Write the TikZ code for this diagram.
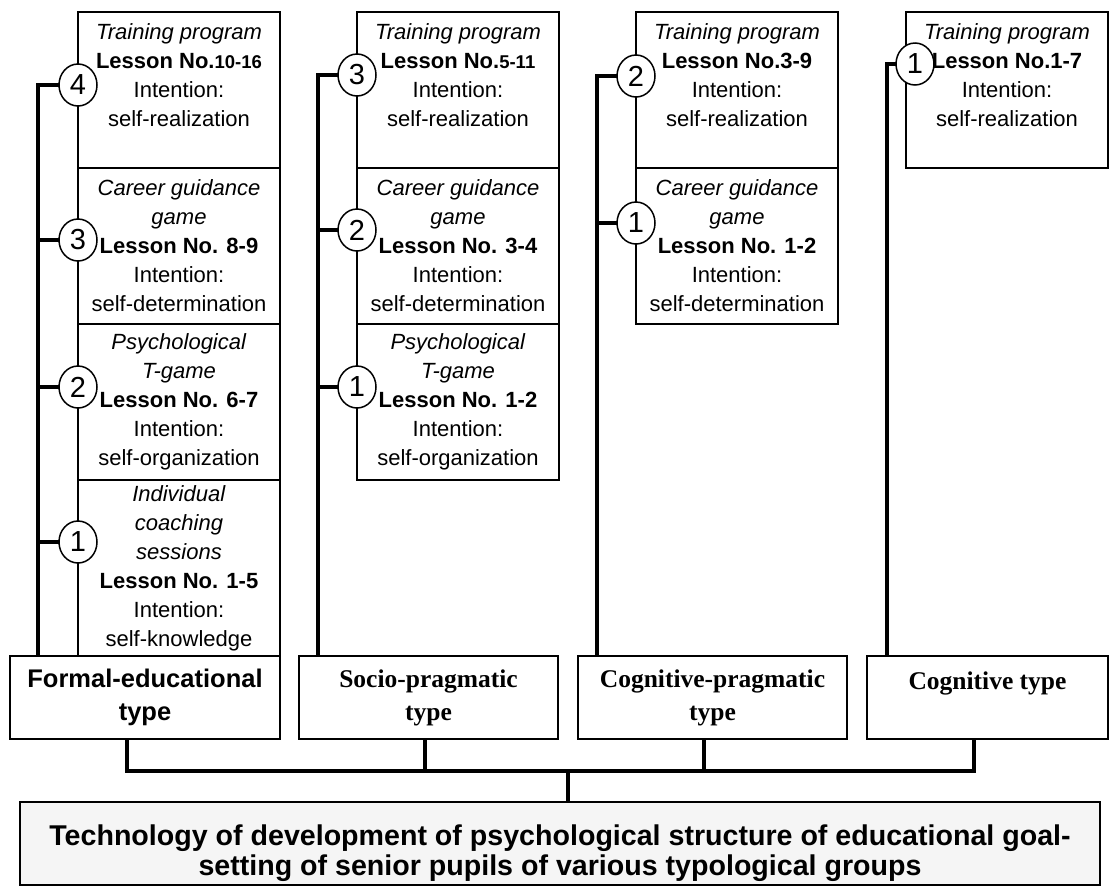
\documentclass[tikz,border=0pt]{standalone}
\usepackage{fontspec}
\setmainfont{Liberation Sans}
\newfontfamily\timesfont{Liberation Serif}
\usetikzlibrary{positioning,calc,shapes.geometric}

\begin{document}
\begin{tikzpicture}[
  x=1pt, y=-1pt,
  every node/.style={
    text centered,
    inner sep=2pt,
    outer sep=0pt
  },
  lesson/.style={
    rectangle,
    draw=black,
    line width=1.6pt,
    minimum width=202pt,
    minimum height=156pt,
    align=center,
    font=\fontsize{22}{29}\selectfont
  },
  number/.style={
    ellipse,
    draw=black,
    fill=white,
    line width=1.5pt,
    minimum width=38pt,
    minimum height=42pt,
    inner sep=0pt,
    font=\fontsize{29}{29}\selectfont
  },
  typebox/.style={
    rectangle,
    draw=black,
    fill=white,
    line width=2pt,
    minimum height=83pt,
    align=center,
    font=\timesfont\bfseries\fontsize{25.5}{33}\selectfont
  },
  mainbox/.style={
    rectangle,
    draw=black,
    fill=black!4,
    line width=2pt,
    minimum width=1080pt,
    minimum height=83pt,
    align=center,
    font=\bfseries\fontsize{28.6}{30}\selectfont
  },
  stackframe/.style={
    draw=black,
    line width=2.4pt
  },
  spine/.style={
    line width=4pt
  }
]
  \useasboundingbox (0,0) rectangle (1110,892);

  \node (Formal4) [lesson, anchor=north west] at (78,12) { \textit{Training program} \\ \textbf{Lesson No.{\fontsize{18.5}{29}\selectfont 10-16}} \\ Intention: \\ self-realization \\ ~ };
  \node (Formal3) [lesson, below=0pt of Formal4] { \textit{Career guidance} \\ \textit{game} \\ \textbf{Lesson No. 8-9} \\ Intention: \\ self-determination };
  \node (Formal2) [lesson, below=0pt of Formal3] { \textit{Psychological} \\ \textit{T-game} \\ \textbf{Lesson No. 6-7} \\ Intention: \\ self-organization };
  \node (Formal1) [lesson, below=0pt of Formal2, minimum height=176pt] { \textit{Individual} \\ \textit{coaching} \\ \textit{sessions} \\ \textbf{Lesson No. 1-5} \\ Intention: \\ self-knowledge };

  \node (Socio3) [lesson, right=77pt of Formal4] { \textit{Training program} \\ \textbf{Lesson No.{\fontsize{18.5}{29}\selectfont 5-11}} \\ Intention: \\ self-realization \\ ~ };
  \node (Socio2) [lesson, below=0pt of Socio3] { \textit{Career guidance} \\ \textit{game} \\ \textbf{Lesson No. 3-4} \\ Intention: \\ self-determination };
  \node (Socio1) [lesson, below=0pt of Socio2] { \textit{Psychological} \\ \textit{T-game} \\ \textbf{Lesson No. 1-2} \\ Intention: \\ self-organization };

  \node (CognPrag2) [lesson, right=77pt of Socio3] { \textit{Training program} \\ \textbf{Lesson No.3-9} \\ Intention: \\ self-realization \\ ~ };
  \node (CognPrag1) [lesson, below=0pt of CognPrag2] { \textit{Career guidance} \\ \textit{game} \\ \textbf{Lesson No. 1-2} \\ Intention: \\ self-determination };

  \node (Cogn1) [lesson, right=68pt of CognPrag2] { \textit{Training program} \\ \textbf{Lesson No.1-7} \\ Intention: \\ self-realization \\ ~ };

  \draw[stackframe] (Formal4.north west) rectangle (Formal1.south east);
  \draw[stackframe] (Socio3.north west) rectangle (Socio1.south east);
  \draw[stackframe] (CognPrag2.north west) rectangle (CognPrag1.south east);
  \draw[stackframe] (Cogn1.north west) rectangle (Cogn1.south east);

  \node (FormalType) [typebox, minimum width=270pt, below left=0pt and 0pt of Formal1.south east, font=\bfseries\fontsize{25.5}{33}\selectfont] { Formal-educational \\ type };
  \node (SocioType) [typebox, minimum width=259pt, right=19pt of FormalType] { Socio-pragmatic \\ type };
  \node (CognPragType) [typebox, minimum width=269pt, right=20pt of SocioType] { Cognitive-pragmatic \\ type };
  \node (CognType) [typebox, minimum width=241pt, right=20pt of CognPragType] { Cognitive type \\ ~ };

  \node (Technology) [mainbox, anchor=north west] at (20,802) { \rule{0pt}{40pt}Technology of development of psychological structure of educational goal- \\ setting of senior pupils of various typological groups };

  \node (Formal4Num) [number] at ([yshift=5pt]Formal4.west) {4};
  \node (Formal3Num) [number] at ([yshift=6pt]Formal3.west) {3};
  \node (Formal2Num) [number] at ([yshift=15pt]Formal2.west) {2};
  \node (Formal1Num) [number] at ([yshift=26pt]Formal1.west) {1};
  \node (Socio3Num) [number] at ([yshift=15pt]Socio3.west) {3};
  \node (Socio2Num) [number] at ([yshift=16pt]Socio2.west) {2};
  \node (Socio1Num) [number] at ([yshift=15pt]Socio1.west) {1};
  \node (CognPrag2Num) [number] at ([yshift=14pt]CognPrag2.west) {2};
  \node (CognPrag1Num) [number] at ([yshift=23pt]CognPrag1.west) {1};
  \node (Cogn1Num) [number] at ([xshift=9pt, yshift=26pt]Cogn1.west) {1};

  \coordinate (FormalSpine) at ([xshift=28pt]FormalType.north west);
  \coordinate (SocioSpine) at ([xshift=19pt]SocioType.north west);
  \coordinate (CognPragSpine) at ([xshift=19pt]CognPragType.north west);
  \coordinate (CognSpine) at ([xshift=20pt]CognType.north west);

  \draw[spine] (Formal4Num) -| (FormalSpine);
  \draw[spine] (Formal3Num) -- (Formal3Num -| FormalSpine);
  \draw[spine] (Formal2Num) -- (Formal2Num -| FormalSpine);
  \draw[spine] (Formal1Num) -- (Formal1Num -| FormalSpine);
  \draw[spine] (Socio3Num) -| (SocioSpine);
  \draw[spine] (Socio2Num) -- (Socio2Num -| SocioSpine);
  \draw[spine] (Socio1Num) -- (Socio1Num -| SocioSpine);
  \draw[spine] (CognPrag2Num) -| (CognPragSpine);
  \draw[spine] (CognPrag1Num) -- (CognPrag1Num -| CognPragSpine);
  \draw[spine] (Cogn1Num) -| (CognSpine);

  \coordinate (Bus) at (568,771);
  \coordinate (FormalOut) at ([xshift=-18pt]FormalType.south);
  \coordinate (SocioOut) at ([xshift=-4pt]SocioType.south);
  \coordinate (CognPragOut) at ([xshift=-9pt]CognPragType.south);
  \coordinate (CognOut) at ([xshift=-14pt]CognType.south);

  \draw[spine] (FormalOut) |- (Bus) -| (CognOut);
  \draw[spine] (SocioOut) -- (SocioOut |- Bus);
  \draw[spine] (CognPragOut) -- (CognPragOut |- Bus);
  \draw[spine] (Bus) -- (Bus |- Technology.north);
\end{tikzpicture}
\end{document}
